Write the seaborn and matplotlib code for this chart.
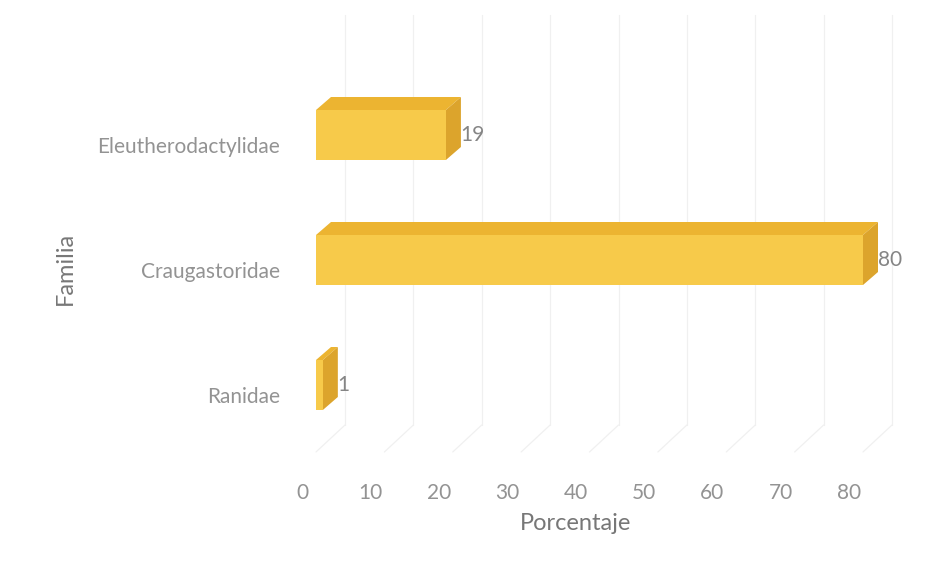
import matplotlib
matplotlib.use("Agg")
import matplotlib.pyplot as plt
import matplotlib.transforms as mtransforms
from matplotlib.patches import Polygon
import seaborn as sns
import pandas as pd

# ---- data ----
familias = ["Eleutherodactylidae", "Craugastoridae", "Ranidae"]
porcentajes = [19, 80, 1]
x_ticks = [0, 10, 20, 30, 40, 50, 60, 70, 80]

# ---- style ----
FRONT = "#F7CA4A"
TOP = "#ECB431"
SIDE = "#DCA42C"
GRID = "#f0f0f0"
TXT = "#939393"

sns.set_theme(style="white")
plt.rcParams['font.family'] = ['Lato', 'DejaVu Sans']

W, H = 936, 572
fig = plt.figure(figsize=(W / 100, H / 100), dpi=100)
fig.patch.set_facecolor("white")
ax_left, ax_right, ax_top, ax_bottom = 316, 900, 15, 452
ax = fig.add_axes([ax_left / W, (H - ax_bottom) / H,
                   (ax_right - ax_left) / W, (ax_bottom - ax_top) / H])
ax.set_facecolor("none")

df = pd.DataFrame({"Familia": familias, "Porcentaje": porcentajes})
sns.barplot(data=df, x="Porcentaje", y="Familia", orient="h", color=FRONT,
            saturation=1, width=0.4, ax=ax, zorder=5, linewidth=0)

px_per_unit = (863 - 316) / 80.0
ax.set_xlim(0, (ax_right - ax_left) / px_per_unit)
ax.set_ylim(2 + (ax_bottom - 385) / 125.0, -(135 - ax_top) / 125.0)

for s in ax.spines.values():
    s.set_visible(False)

ax.set_xticks(x_ticks)
ax.set_xticklabels([str(t) for t in x_ticks])
ax.tick_params(axis="both", length=0, labelsize=15, labelcolor=TXT)
ax.tick_params(axis="x", pad=22)
ax.tick_params(axis="y", pad=26)
ax.set_xlabel("")
ax.set_ylabel("")
ax.grid(False)

for lab in ax.get_xticklabels():
    lab.set_transform(lab.get_transform() +
                      mtransforms.ScaledTranslation(-14 / 100, 0, fig.dpi_scale_trans))
for lab in ax.get_yticklabels():
    lab.set_transform(lab.get_transform() +
                      mtransforms.ScaledTranslation(0, -10 / 100, fig.dpi_scale_trans))

fig.canvas.draw()
ident = mtransforms.IdentityTransform()

# depth of bars and of the back wall (pixels)
bdx, bdy = 15, 13
wdx, wdy = 29, 27

# back-wall gridlines and floor lines
y_top_disp = ax.transAxes.transform((0, 1))[1]
y_floor_disp = ax.transAxes.transform((0, 0))[1]
for t in x_ticks:
    xf = ax.transData.transform((t, 0))[0]
    ax.add_line(plt.Line2D([xf + wdx, xf + wdx], [y_top_disp, y_floor_disp + wdy],
                           transform=ident, color=GRID, lw=0.9, zorder=1, clip_on=False))
    ax.add_line(plt.Line2D([xf + wdx, xf], [y_floor_disp + wdy, y_floor_disp],
                           transform=ident, color=GRID, lw=0.9, zorder=1, clip_on=False))

# 3D faces for each bar
for patch in ax.patches:
    x0, y0 = patch.get_x(), patch.get_y()
    w, h = patch.get_width(), patch.get_height()
    (l, b) = ax.transData.transform((x0, y0 + h))
    (r, t) = ax.transData.transform((x0 + w, y0))
    top_face = [(l, t), (r, t), (r + bdx, t + bdy), (l + bdx, t + bdy)]
    side_face = [(r, b), (r + bdx, b + bdy), (r + bdx, t + bdy), (r, t)]
    ax.add_patch(Polygon(top_face, closed=True, transform=ident, facecolor=TOP,
                         edgecolor="none", zorder=4, clip_on=False))
    ax.add_patch(Polygon(side_face, closed=True, transform=ident, facecolor=SIDE,
                         edgecolor="none", zorder=4, clip_on=False))

# value labels
for i, v in enumerate(porcentajes):
    ax.annotate(str(v), xy=(v, i), xytext=(10.5, 0), textcoords="offset points",
                ha="left", va="center", fontsize=15, color="#858585", zorder=6)

# axis titles
fig.text(576 / W, 1 - 524 / H, "Porcentaje", ha="center", va="center",
         fontsize=17, color="#777777")
fig.text(65 / W, 1 - 268 / H, "Familia", ha="center", va="center",
         rotation=90, fontsize=17, color="#777777")

fig.savefig("out.png", dpi=100, facecolor="white")
